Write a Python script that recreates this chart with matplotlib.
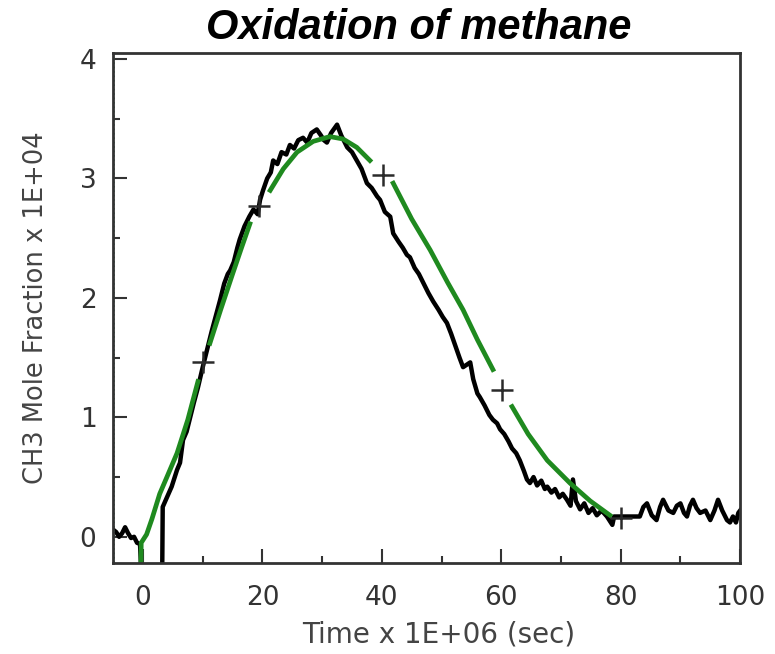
import numpy as np
import matplotlib
matplotlib.use("Agg")
import matplotlib.pyplot as plt
from matplotlib.ticker import MultipleLocator

plt.rcParams["font.family"] = ["DejaVu Sans"]

# measured CH3 mole fraction (x 1E+04), time in 1E+06 sec
exp_t = [-5, -4.5, -4, -3.5, -3, -2.5, -2, -1.5, -1, -0.5, -0.2,
         3.2, 3.3, 4, 4.8, 5.7, 6.2, 6.7, 7.3, 7.9, 8.5, 9.2, 10, 10.8, 11.5,
         12.2, 12.9, 13.6, 14.2, 14.6, 15.2, 15.8, 16.2, 17, 17.8, 18.5, 19.2,
         19.6, 20.1, 20.8, 21.4, 21.8, 22.5, 23.2, 24, 24.6, 25.3, 26, 26.8,
         27.5, 28.2, 29.1, 29.8, 30.3, 30.8, 31.5, 32.5, 33.2, 34.2, 35, 35.8,
         36.6, 37.5, 38.3, 39.2, 39.7, 40.5, 41.4, 41.9, 42.8, 43.5, 44.2, 44.7,
         45.5, 46.2, 46.9, 47.8, 48.6, 49.5, 50.2, 50.9, 51.6, 52.3, 53.0, 53.6,
         54.2, 54.8, 55.3, 56.0, 56.4, 57.2, 58.0, 58.6, 59.3, 59.8, 60.5, 61.2,
         61.8, 62.5, 63.1, 63.8, 64.3, 64.8, 65.4, 66.0, 66.7, 67.3, 67.7, 68.4,
         69.0, 69.7, 70.3, 71.0, 71.6, 72.0, 72.5, 73.2, 73.9, 74.6, 75.3, 76.0,
         76.8, 77.7, 78.6, 78.9, 83.2, 83.8, 84.4, 85.2, 86, 86.6, 87.1, 88,
         88.8, 89.4, 90, 90.6, 91.1, 91.6, 92.1, 92.7, 93.3, 94.2, 95, 95.7,
         96.3, 97, 97.8, 98.3, 98.8, 99.3, 99.7, 100]
exp_y = [0.06, 0.04, 0.0, 0.03, 0.08, 0.03, -0.01, 0.0, -0.05, -0.06, -0.4,
         -0.4, 0.25, 0.33, 0.42, 0.56, 0.62, 0.81, 0.88, 1.0, 1.12, 1.25, 1.42, 1.58, 1.72,
         1.85, 1.98, 2.12, 2.20, 2.23, 2.30, 2.42, 2.49, 2.60, 2.68, 2.74, 2.70,
         2.82, 2.90, 3.00, 3.05, 3.15, 3.12, 3.22, 3.20, 3.28, 3.25, 3.32, 3.34,
         3.30, 3.38, 3.41, 3.36, 3.32, 3.30, 3.38, 3.45, 3.36, 3.26, 3.22, 3.15,
         3.08, 2.96, 2.92, 2.85, 2.82, 2.72, 2.68, 2.54, 2.47, 2.42, 2.36, 2.34,
         2.25, 2.20, 2.13, 2.04, 1.97, 1.90, 1.84, 1.79, 1.70, 1.60, 1.50, 1.42,
         1.44, 1.46, 1.32, 1.20, 1.17, 1.10, 1.02, 0.98, 0.95, 0.90, 0.86, 0.80,
         0.74, 0.70, 0.64, 0.55, 0.48, 0.45, 0.50, 0.43, 0.47, 0.40, 0.42, 0.37,
         0.40, 0.33, 0.36, 0.31, 0.26, 0.48, 0.30, 0.23, 0.28, 0.20, 0.24, 0.18,
         0.22, 0.17, 0.10, 0.17, 0.17, 0.25, 0.28, 0.18, 0.14, 0.25, 0.31, 0.22,
         0.20, 0.26, 0.28, 0.20, 0.17, 0.26, 0.31, 0.24, 0.20, 0.22, 0.14, 0.22,
         0.31, 0.22, 0.14, 0.12, 0.17, 0.12, 0.20, 0.22]

# model curve (gaps where the + markers sit)
model_t = [-0.4, -0.3, 0.6, 1.5, 2.8, 4.0, 5.7, 7.5, 9.2, np.nan,
           11.2, 13, 15, 16.5, 17.9, np.nan,
           21.3, 23.5, 25.8, 28.5, 31.3, 33.5, 35.8, 38.0, np.nan,
           41.9, 45, 48.1, 51, 53.6, 56, 58.6, np.nan,
           61.8, 64.5, 67.7, 71.5, 74.9, 78.2]
model_y = [-0.4, -0.05, 0.02, 0.15, 0.36, 0.50, 0.70, 0.98, 1.30, np.nan,
           1.62, 1.90, 2.20, 2.42, 2.62, np.nan,
           2.90, 3.08, 3.22, 3.31, 3.35, 3.33, 3.26, 3.15, np.nan,
           2.96, 2.66, 2.40, 2.13, 1.90, 1.65, 1.40, np.nan,
           1.09, 0.86, 0.64, 0.45, 0.30, 0.18]

mark_t = [10, 19.4, 40.2, 60.2, 80.1]
mark_y = [1.46, 2.77, 3.03, 1.23, 0.16]

fig = plt.figure(figsize=(7.75, 6.54), dpi=100)
ax = fig.add_axes([0.146, 0.139, 0.809, 0.780])

ax.plot(exp_t, exp_y, color="black", lw=3.2)
ax.plot(model_t, model_y, color="#1f8a1f", lw=3.4)
ax.plot(mark_t, mark_y, ls="none", marker="+", ms=16, mew=1.8, color="#2a2a2a")
ax.axvline(-4.9, color="#2fa06a", lw=1.2, ls=":")

ax.set_xlim(-5, 100)
ax.set_ylim(-0.22, 4.05)
ax.xaxis.set_major_locator(MultipleLocator(20))
ax.xaxis.set_minor_locator(MultipleLocator(10))
ax.yaxis.set_major_locator(MultipleLocator(1))
ax.yaxis.set_minor_locator(MultipleLocator(0.5))
ax.tick_params(which="both", direction="in", colors="#333333", labelsize=19,
               top=False, right=False)
ax.tick_params(axis="x", pad=16)
ax.tick_params(axis="y", pad=12)
ax.tick_params(which="major", length=10, width=1.5)
ax.tick_params(which="minor", length=5, width=1.5)
for s in ax.spines.values():
    s.set_color("#333333")
    s.set_linewidth(2)

ax.set_xlabel("Time x 1E+06 (sec)", fontsize=20, color="#444444")
ax.xaxis.set_label_coords(0.52, -0.112)
ax.set_ylabel("CH3 Mole Fraction x 1E+04", fontsize=18.5, color="#444444", labelpad=22)
fig.text(0.54, 0.957, "Oxidation of methane", ha="center", va="center", fontsize=30,
         fontweight="bold", fontstyle="italic", family="Liberation Sans")

fig.savefig("out.png", dpi=100)
